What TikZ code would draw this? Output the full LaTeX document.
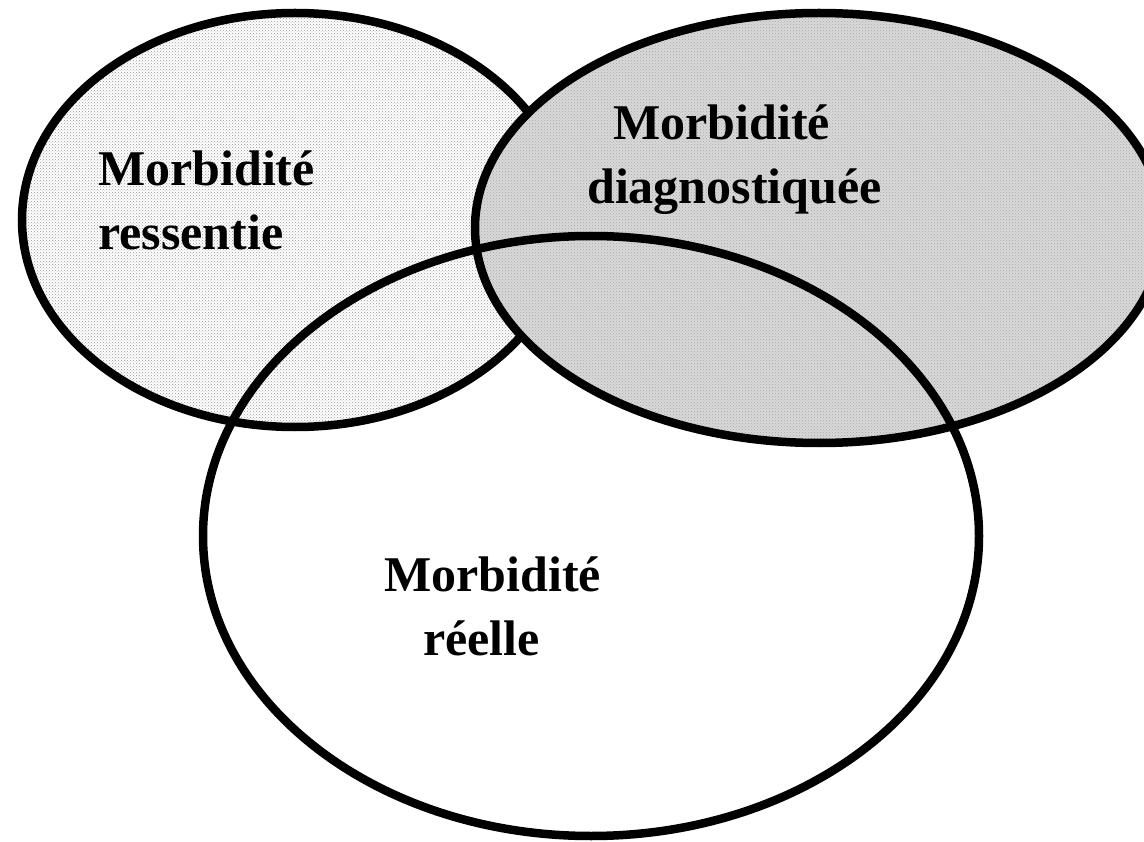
\documentclass[tikz,border=0pt]{standalone}
\usepackage{fontspec}
\setmainfont{Liberation Serif}
\usetikzlibrary{shapes.geometric,patterns}

\begin{document}
\begin{tikzpicture}[x=1pt,y=-1pt,
	zone/.style={ellipse, draw=black, line width=8.5pt, inner sep=0pt},
	txt/.style={anchor=base west, inner sep=0pt, align=left, font=\fontsize{50}{64}\selectfont\bfseries}
	]

	\clip (0,0) rectangle (1144,842);

	\node (ressentie) [zone, minimum width=546pt, minimum height=414pt,
		preaction={fill=white}, pattern=crosshatch dots, pattern color=gray!80] at (295,220) {};

	\node (diagnostiquee) [zone, minimum width=688pt, minimum height=430pt,
		preaction={fill=gray!30}, pattern=crosshatch dots, pattern color=gray!70] at (819,228) {};

	\node (reelle) [zone, minimum width=776pt, minimum height=600pt] at (591,536) {};

	% base anchor sits on the last line
	\node (t-ressentie) [txt] at (98,250) {Morbidité\\ressentie};
	\node (t-diagnostiquee) [txt] at (587,204) {\hspace*{26pt}Morbidité\\diagnostiquée};
	\node (t-reelle) [txt] at (384,655) {Morbidité\\\hspace*{39pt}réelle};

\end{tikzpicture}
\end{document}
